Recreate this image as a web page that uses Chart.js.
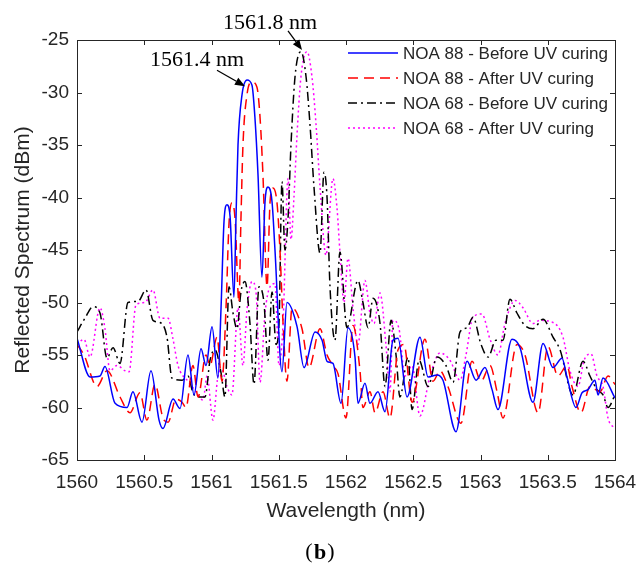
<!DOCTYPE html>
<html>
<head>
<meta charset="utf-8">
<script src="https://cdn.jsdelivr.net/npm/chart.js@4.4.0/dist/chart.umd.min.js"></script>
<style>
  html, body { margin: 0; padding: 0; background: #fff; }
  #wrap { width: 638px; height: 572px; }
</style>
</head>
<body>
<div id="wrap"><canvas id="spectrum" width="638" height="572"></canvas></div>
<script>
// axis ticks
const xTicks = [1560, 1560.5, 1561, 1561.5, 1562, 1562.5, 1563, 1563.5, 1564];
const xTickLabels = ['1560', '1560.5', '1561', '1561.5', '1562', '1562.5', '1563', '1563.5', '1564'];
const yTicks = [-65, -60, -55, -50, -45, -40, -35, -30, -25];
const yTickLabels = ['-65', '-60', '-55', '-50', '-45', '-40', '-35', '-30', '-25'];

const seriesLabels = [
  'NOA 88 - Before UV curing',
  'NOA 88 - After UV curing',
  'NOA 68 - Before UV curing',
  'NOA 68 - After UV curing'
];

// [wavelength nm, reflected dBm]
const noa88Before = [
  [1560.000, -53.4], [1560.097, -57.1], [1560.171, -57.0], [1560.208, -56.1], [1560.283, -59.6],
  [1560.372, -60.0], [1560.416, -58.5], [1560.483, -61.4], [1560.550, -56.5], [1560.610, -61.2],
  [1560.639, -62.0], [1560.714, -59.2], [1560.766, -60.1], [1560.825, -55.0], [1560.870, -58.8],
  [1560.922, -54.4], [1560.959, -56.0], [1561.004, -52.3], [1561.048, -57.2], [1561.071, -50.5],
  [1561.093, -42.3], [1561.115, -40.7], [1561.138, -41.8], [1561.167, -49.5], [1561.182, -42.0],
  [1561.197, -35.0], [1561.227, -30.2], [1561.264, -28.8], [1561.301, -29.3], [1561.323, -32.4],
  [1561.346, -37.9], [1561.375, -47.6], [1561.398, -40.4], [1561.420, -39.0], [1561.450, -40.4],
  [1561.472, -45.0], [1561.524, -56.6], [1561.561, -50.0], [1561.636, -52.3], [1561.688, -56.2],
  [1561.770, -52.8], [1561.822, -53.6], [1561.859, -55.6], [1561.903, -55.8], [1561.963, -59.6],
  [1562.015, -52.4], [1562.067, -55.2], [1562.089, -59.6], [1562.141, -57.7], [1562.178, -59.6],
  [1562.238, -58.5], [1562.290, -60.4], [1562.349, -53.6], [1562.387, -53.4], [1562.454, -59.0],
  [1562.550, -53.3], [1562.610, -57.1], [1562.677, -56.9], [1562.721, -57.4], [1562.818, -62.3],
  [1562.900, -55.6], [1562.967, -57.4], [1563.033, -56.2], [1563.086, -58.3], [1563.130, -60.2],
  [1563.234, -53.5], [1563.294, -54.3], [1563.390, -59.5], [1563.465, -53.9], [1563.539, -56.2],
  [1563.606, -55.3], [1563.643, -57.1], [1563.710, -60.0], [1563.755, -58.6], [1563.799, -58.3],
  [1563.851, -57.4], [1563.874, -58.8], [1563.911, -57.2], [1564.000, -59.1]
];

const noa88After = [
  [1560.000, -54.0], [1560.052, -55.0], [1560.149, -58.0], [1560.223, -56.5], [1560.320, -59.0],
  [1560.394, -60.5], [1560.468, -58.6], [1560.520, -61.2], [1560.580, -57.8], [1560.639, -61.0],
  [1560.677, -61.4], [1560.736, -59.2], [1560.781, -59.5], [1560.810, -60.0], [1560.862, -56.0],
  [1560.900, -59.0], [1560.959, -55.0], [1560.989, -56.0], [1561.041, -53.3], [1561.078, -57.5],
  [1561.108, -50.5], [1561.130, -42.5], [1561.152, -40.5], [1561.175, -42.0], [1561.204, -50.0],
  [1561.219, -42.0], [1561.234, -35.0], [1561.264, -30.2], [1561.301, -29.0], [1561.338, -29.5],
  [1561.361, -32.4], [1561.383, -38.0], [1561.413, -48.5], [1561.435, -40.5], [1561.457, -39.1],
  [1561.487, -40.5], [1561.509, -45.0], [1561.532, -52.0], [1561.561, -57.5], [1561.599, -50.5],
  [1561.673, -52.5], [1561.725, -56.2], [1561.807, -52.5], [1561.859, -55.0], [1561.903, -56.0],
  [1561.941, -56.8], [1562.000, -61.0], [1562.052, -52.2], [1562.104, -56.5], [1562.126, -60.0],
  [1562.178, -58.5], [1562.216, -60.5], [1562.275, -58.5], [1562.327, -61.0], [1562.387, -54.5],
  [1562.431, -54.0], [1562.491, -59.5], [1562.587, -53.5], [1562.647, -57.5], [1562.699, -56.5],
  [1562.758, -58.0], [1562.855, -61.5], [1562.937, -55.6], [1563.004, -57.5], [1563.071, -56.0],
  [1563.123, -58.5], [1563.167, -61.0], [1563.271, -54.0], [1563.331, -55.0], [1563.428, -60.5],
  [1563.502, -54.2], [1563.576, -57.0], [1563.643, -56.0], [1563.680, -58.0], [1563.747, -60.5],
  [1563.814, -58.0], [1563.888, -58.5], [1563.948, -57.0], [1564.000, -57.8]
];

const noa68Before = [
  [1560.000, -52.8], [1560.059, -51.5], [1560.119, -50.4], [1560.171, -51.0], [1560.223, -55.3],
  [1560.268, -54.3], [1560.320, -55.8], [1560.379, -50.0], [1560.454, -49.9], [1560.513, -48.8],
  [1560.565, -51.7], [1560.617, -51.9], [1560.669, -53.3], [1560.706, -57.2], [1560.781, -57.4],
  [1560.825, -57.0], [1560.862, -58.6], [1560.900, -59.0], [1560.952, -59.0], [1560.989, -55.5],
  [1561.026, -54.5], [1561.071, -56.7], [1561.100, -59.0], [1561.130, -48.5], [1561.160, -51.0],
  [1561.190, -52.5], [1561.219, -49.0], [1561.249, -48.0], [1561.286, -52.0], [1561.316, -57.8],
  [1561.353, -48.5], [1561.390, -50.0], [1561.420, -55.5], [1561.450, -49.0], [1561.480, -54.0],
  [1561.502, -52.0], [1561.524, -38.5], [1561.546, -45.0], [1561.569, -42.0], [1561.591, -35.0],
  [1561.621, -28.5], [1561.665, -26.1], [1561.703, -28.5], [1561.732, -33.0], [1561.762, -39.0],
  [1561.807, -45.3], [1561.836, -37.6], [1561.859, -40.0], [1561.881, -48.5], [1561.918, -53.6],
  [1561.955, -45.2], [1562.007, -52.4], [1562.089, -47.9], [1562.126, -50.0], [1562.164, -52.4],
  [1562.201, -49.6], [1562.253, -52.0], [1562.290, -58.0], [1562.335, -51.7], [1562.372, -55.0],
  [1562.401, -59.0], [1562.461, -55.2], [1562.491, -60.2], [1562.543, -55.5], [1562.610, -58.0],
  [1562.677, -55.2], [1562.743, -56.0], [1562.796, -57.6], [1562.848, -52.8], [1562.900, -52.4],
  [1562.944, -51.4], [1563.004, -54.0], [1563.056, -55.2], [1563.115, -53.6], [1563.167, -53.6],
  [1563.219, -49.7], [1563.271, -51.0], [1563.331, -52.2], [1563.390, -52.5], [1563.465, -51.6],
  [1563.539, -53.3], [1563.591, -54.5], [1563.688, -58.8], [1563.762, -55.6], [1563.814, -57.0],
  [1563.866, -58.3], [1563.911, -58.8], [1563.948, -60.0], [1564.000, -58.8]
];

const noa68After = [
  [1560.000, -54.0], [1560.052, -53.5], [1560.097, -55.2], [1560.171, -50.5], [1560.208, -52.5],
  [1560.245, -56.5], [1560.297, -56.0], [1560.357, -56.5], [1560.387, -56.6], [1560.439, -50.2],
  [1560.506, -50.0], [1560.565, -48.8], [1560.617, -51.5], [1560.677, -51.5], [1560.714, -53.5],
  [1560.751, -56.0], [1560.825, -57.5], [1560.885, -58.5], [1560.937, -59.3], [1560.967, -57.0],
  [1561.011, -61.2], [1561.048, -57.0], [1561.078, -56.4], [1561.115, -58.0], [1561.152, -58.8],
  [1561.197, -50.5], [1561.234, -56.0], [1561.264, -50.7], [1561.301, -48.0], [1561.331, -49.0],
  [1561.361, -57.6], [1561.398, -51.0], [1561.435, -48.5], [1561.472, -48.2], [1561.502, -56.0],
  [1561.532, -52.0], [1561.569, -38.2], [1561.591, -44.0], [1561.613, -40.0], [1561.636, -34.0],
  [1561.665, -28.5], [1561.710, -26.1], [1561.747, -28.5], [1561.777, -33.0], [1561.807, -39.0],
  [1561.851, -45.5], [1561.903, -38.2], [1561.933, -41.0], [1561.955, -45.2], [1561.985, -50.0],
  [1562.015, -45.8], [1562.052, -50.5], [1562.089, -54.0], [1562.141, -47.9], [1562.178, -51.0],
  [1562.208, -52.0], [1562.253, -49.1], [1562.297, -54.0], [1562.327, -58.5], [1562.349, -51.7],
  [1562.394, -52.5], [1562.439, -57.0], [1562.491, -56.0], [1562.550, -60.8], [1562.625, -57.0],
  [1562.699, -54.8], [1562.773, -55.5], [1562.848, -57.4], [1562.892, -55.0], [1562.944, -51.4],
  [1563.011, -51.1], [1563.071, -53.5], [1563.130, -55.0], [1563.182, -52.0], [1563.257, -49.8],
  [1563.316, -50.5], [1563.390, -52.0], [1563.442, -51.7], [1563.539, -51.9], [1563.613, -53.3],
  [1563.665, -56.5], [1563.725, -58.0], [1563.770, -55.5], [1563.822, -54.9], [1563.866, -57.0],
  [1563.911, -58.0], [1563.948, -61.0], [1564.000, -62.0]
];

// peak callouts: text, arrow tip (nm, dBm)
const peakNotes = [
  { text: '1561.4 nm', nm: 1561.249, dbm: -29.4 },
  { text: '1561.8 nm', nm: 1561.673, dbm: -25.95 }
];

const inkColor = '#262626';
const lineStyles = [
  { color: '#0000ff', dash: [] },
  { color: '#ff0000', dash: [10, 6] },
  { color: '#000000', dash: [9, 4, 2, 4] },
  { color: '#ff00ff', dash: [2, 3] }
];

const toPoints = arr => arr.map(p => ({ x: p[0], y: p[1] }));

// frame, inward ticks, legend and callouts (MATLAB look)
const matlabLook = {
  id: 'matlabLook',
  afterDatasetsDraw(chart) {
    const { ctx, chartArea: a, scales: { x, y } } = chart;
    ctx.save();
    ctx.strokeStyle = inkColor;
    ctx.lineWidth = 1;
    ctx.setLineDash([]);
    ctx.strokeRect(Math.round(a.left) + 0.5, Math.round(a.top) + 0.5,
      Math.round(a.right - a.left), Math.round(a.bottom - a.top));
    ctx.beginPath();
    x.ticks.forEach(t => {
      const px = Math.round(x.getPixelForValue(t.value)) + 0.5;
      ctx.moveTo(px, a.bottom); ctx.lineTo(px, a.bottom - 5);
      ctx.moveTo(px, a.top); ctx.lineTo(px, a.top + 5);
    });
    y.ticks.forEach(t => {
      const py = Math.round(y.getPixelForValue(t.value)) + 0.5;
      ctx.moveTo(a.left, py); ctx.lineTo(a.left + 5, py);
      ctx.moveTo(a.right, py); ctx.lineTo(a.right - 5, py);
    });
    ctx.stroke();

    // legend
    ctx.font = '17px "Liberation Sans", Arial, sans-serif';
    ctx.textBaseline = 'middle';
    ctx.textAlign = 'left';
    chart.data.datasets.forEach((ds, i) => {
      const ly = 53 + i * 25;
      ctx.beginPath();
      ctx.strokeStyle = ds.borderColor;
      ctx.lineWidth = 1.5;
      ctx.setLineDash(ds.borderDash || []);
      ctx.moveTo(348, ly); ctx.lineTo(398, ly);
      ctx.stroke();
      ctx.fillStyle = inkColor;
      ctx.fillText(ds.label, 403, ly + 1);
    });
    ctx.setLineDash([]);

    // callouts
    ctx.font = '22px "Liberation Serif", "Times New Roman", serif';
    ctx.textAlign = 'center';
    ctx.fillStyle = '#000';
    ctx.strokeStyle = '#000';
    const offsets = [{ dx: -28, dy: -16, tx: -48, ty: -26 }, { dx: -14, dy: -19, tx: -32, ty: -27 }];
    peakNotes.forEach((n, i) => {
      const tipX = x.getPixelForValue(n.nm);
      const tipY = y.getPixelForValue(n.dbm);
      const o = offsets[i];
      const tailX = tipX + o.dx, tailY = tipY + o.dy;
      const ang = Math.atan2(tipY - tailY, tipX - tailX);
      const hl = 10, hw = 4;
      const bx = tipX - hl * Math.cos(ang), by = tipY - hl * Math.sin(ang);
      ctx.lineWidth = 1.3;
      ctx.beginPath();
      ctx.moveTo(tailX, tailY); ctx.lineTo(bx, by);
      ctx.stroke();
      ctx.beginPath();
      ctx.moveTo(tipX, tipY);
      ctx.lineTo(bx + hw * Math.sin(ang), by - hw * Math.cos(ang));
      ctx.lineTo(bx - hw * Math.sin(ang), by + hw * Math.cos(ang));
      ctx.closePath();
      ctx.fill();
      ctx.fillText(n.text, tipX + o.tx, tipY + o.ty);
    });

    // panel tag
    ctx.font = 'bold 22px "Liberation Serif", "Times New Roman", serif';
    ctx.fillText('b', 320, 553);
    ctx.font = '22px "Liberation Serif", "Times New Roman", serif';
    ctx.fillText('(', 309, 552);
    ctx.fillText(')', 331, 552);
    ctx.restore();
  }
};

const datasets = [noa88Before, noa88After, noa68Before, noa68After].map((arr, i) => ({
  label: seriesLabels[i],
  data: toPoints(arr),
  borderColor: lineStyles[i].color,
  borderDash: lineStyles[i].dash,
  borderWidth: 1.5,
  pointRadius: 0,
  fill: false,
  cubicInterpolationMode: 'monotone'
}));

new Chart(document.getElementById('spectrum'), {
  type: 'line',
  data: { datasets },
  options: {
    responsive: false,
    animation: false,
    layout: { padding: { top: 40, right: 23, left: 0, bottom: 0 } },
    plugins: {
      legend: { display: false },
      tooltip: { enabled: false }
    },
    scales: {
      x: {
        type: 'linear',
        min: 1560,
        max: 1564,
        afterBuildTicks: s => { s.ticks = xTicks.map(v => ({ value: v })); },
        afterFit: s => { s.height = 112; s.paddingLeft = 0; s.paddingRight = 0; },
        grid: { display: false, drawTicks: false },
        border: { display: false },
        ticks: {
          callback: (v, i) => xTickLabels[i],
          color: inkColor,
          padding: 11,
          maxRotation: 0,
          font: { family: '"Liberation Sans", Arial, sans-serif', size: 19 }
        },
        title: {
          display: true,
          text: 'Wavelength (nm)',
          color: inkColor,
          padding: { top: 0, bottom: 48 },
          font: { family: '"Liberation Sans", Arial, sans-serif', size: 21 }
        }
      },
      y: {
        type: 'linear',
        min: -65,
        max: -25,
        afterBuildTicks: s => { s.ticks = yTicks.map(v => ({ value: v })); },
        afterFit: s => { s.width = 77; s.paddingTop = 0; s.paddingBottom = 0; },
        grid: { display: false, drawTicks: false },
        border: { display: false },
        ticks: {
          callback: (v, i) => yTickLabels[i],
          color: inkColor,
          padding: 8,
          font: { family: '"Liberation Sans", Arial, sans-serif', size: 19 }
        },
        title: {
          display: true,
          text: 'Reflected Spectrum (dBm)',
          color: inkColor,
          padding: { top: 11, bottom: 0 },
          font: { family: '"Liberation Sans", Arial, sans-serif', size: 21 }
        }
      }
    }
  },
  plugins: [matlabLook]
});
</script>
</body>
</html>
